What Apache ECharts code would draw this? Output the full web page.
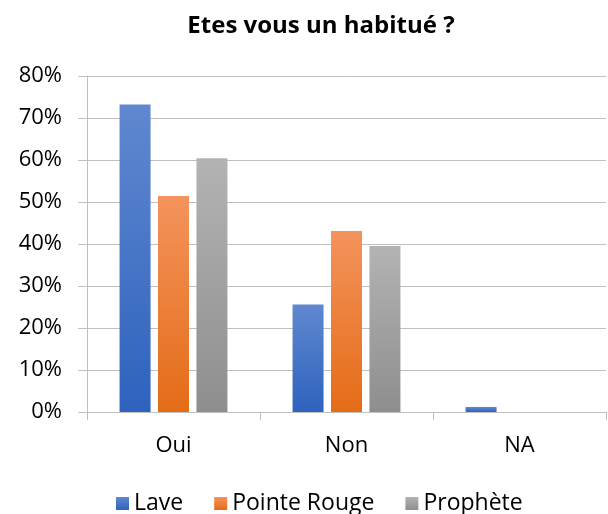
<!DOCTYPE html>
<html>
<head>
<meta charset="utf-8">
<script src="https://cdn.jsdelivr.net/npm/echarts@6/dist/echarts.min.js"></script>
<style>
  html, body { margin: 0; padding: 0; background: #fff; }
  #chart { width: 608px; height: 514px; }
</style>
</head>
<body>
<div id="chart"></div>
<script>
// catégories et valeurs (%)
var categories = ['Oui', 'Non', 'NA'];
var seriesNames = ['Lave', 'Pointe Rouge', 'Prophète'];
var lave = [73.2, 25.6, 1.2];
var pointeRouge = [51.4, 43.1, 0];
var prophete = [60.4, 39.5, 0];
var yTicks = [0, 10, 20, 30, 40, 50, 60, 70, 80];

var FONT = 'Open Sans';

function grad(top, bottom) {
    return new echarts.graphic.LinearGradient(0, 0, 0, 1, [
        { offset: 0, color: top },
        { offset: 1, color: bottom }
    ]);
}

var colors = [
    grad('#6088d0', '#2e62bd'),
    grad('#f4935c', '#e46c17'),
    grad('#b3b3b3', '#8e8e8e')
];

var values = [lave, pointeRouge, prophete];

var chart = echarts.init(document.getElementById('chart'));
var option = {
    animation: false,
    title: {
        text: 'Etes vous un habitué ?',
        left: 316,
        top: 9,
        textAlign: 'center',
        textStyle: { fontFamily: FONT, fontWeight: 'bold', fontSize: 24, color: '#000' }
    },
    legend: {
        data: seriesNames,
        bottom: -6,
        left: 111,
        icon: 'rect',
        itemWidth: 13,
        itemHeight: 13,
        itemGap: 31,
        textStyle: { fontFamily: FONT, fontSize: 23, color: '#000', padding: [0, 0, 0, 0] }
    },
    grid: {
        left: 87,
        right: 2,
        top: 76,
        bottom: 102
    },
    xAxis: {
        type: 'category',
        data: categories,
        axisLine: { show: true, lineStyle: { color: '#bfbfbf', width: 1 } },
        axisTick: { show: true, length: 8, alignWithLabel: false, lineStyle: { color: '#bfbfbf' } },
        axisLabel: { fontFamily: FONT, fontSize: 22, color: '#000', margin: 23 },
        splitLine: { show: false }
    },
    yAxis: {
        type: 'value',
        min: yTicks[0],
        max: yTicks[yTicks.length - 1],
        interval: 10,
        axisLine: { show: true, lineStyle: { color: '#bfbfbf', width: 1 } },
        axisTick: { show: true, length: 9, lineStyle: { color: '#bfbfbf' } },
        axisLabel: {
            fontFamily: FONT, fontSize: 22, color: '#000', margin: 25,
            formatter: function (v) { return v + '%'; }
        },
        splitLine: { show: true, lineStyle: { color: '#bfbfbf', width: 1 } }
    },
    series: seriesNames.map(function (name, i) {
        return {
            name: name,
            type: 'bar',
            data: values[i],
            barWidth: 31,
            barGap: '24%',
            itemStyle: { color: colors[i] }
        };
    })
};
chart.setOption(option);
window.onresize = chart.resize;
</script>
</body>
</html>
